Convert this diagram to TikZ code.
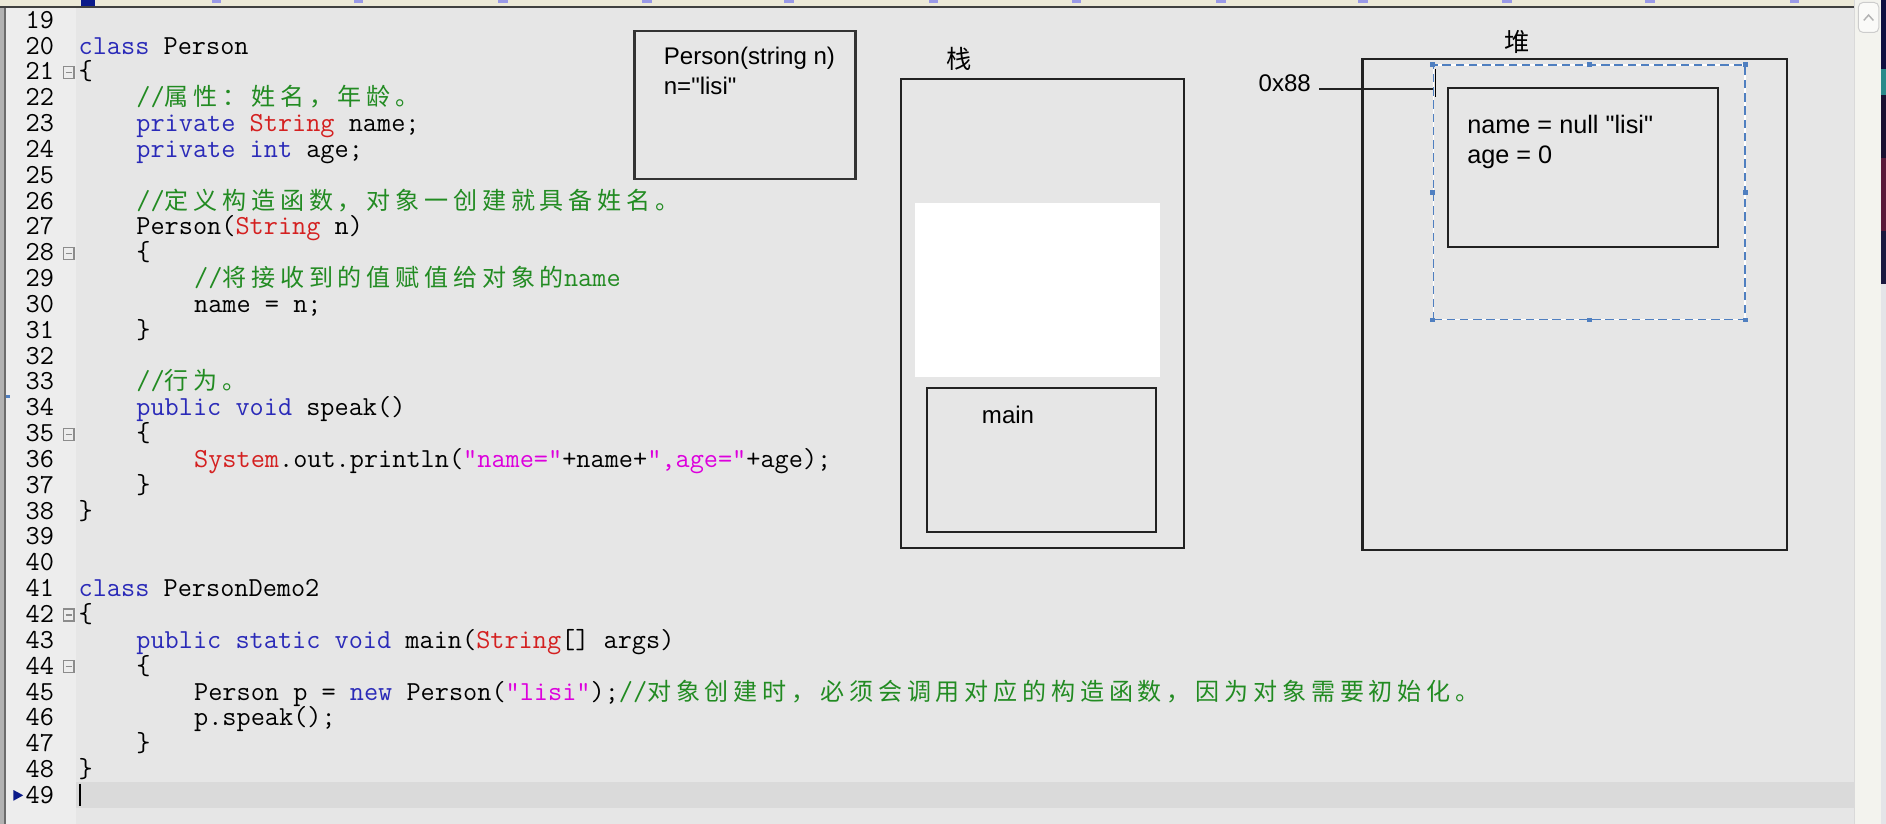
\documentclass[tikz,border=0pt]{standalone}
\usepackage{fontspec}
\setmainfont{Liberation Sans}[Ligatures=TeXOff]
\newfontfamily\cjk{Noto Sans CJK SC}
\newfontfamily\cjkcode[LetterSpace=20]{Noto Sans CJK SC}
\usetikzlibrary{fit}
\definecolor{codebg}{HTML}{E6E6E6}
\definecolor{gutc}{HTML}{EDEDED}
\definecolor{hlc}{HTML}{DADADA}
\definecolor{topc}{HTML}{ECE9D8}
\definecolor{tickc}{HTML}{9A9AE8}
\definecolor{sbc}{HTML}{F3F3EE}
\definecolor{navyc}{HTML}{0A1A8A}
\definecolor{kwc}{HTML}{2A2AB8}
\definecolor{tyc}{HTML}{D42020}
\definecolor{stc}{HTML}{DD00DD}
\definecolor{cmc}{HTML}{228B22}
\definecolor{boxc}{HTML}{222222}
\definecolor{selc}{HTML}{4F7FC0}
\definecolor{rsA}{HTML}{101040}
\definecolor{rsB}{HTML}{2A8A8A}
\definecolor{rsC}{HTML}{1A1030}
\definecolor{rsD}{HTML}{5A1A3A}
\definecolor{rsE}{HTML}{1A1A40}
\definecolor{rsF}{HTML}{E4E4E8}
\newcommand\kwd[1]{\textcolor{kwc}{#1}}
\newcommand\typn[1]{\textcolor{tyc}{#1}}
\newcommand\strl[1]{\textcolor{stc}{#1}}
\newcommand\cmnt[1]{\textcolor{cmc}{#1}}
\newcommand\zh[1]{{\cjkcode\fontsize{10pt}{12pt}\selectfont #1}}
\newcommand\myCL[3]{\node[codetxt] (L#1) at ({65+12*#2},{23.5+(#1-19)*21.48}) {#3};}
\begin{document}
\begin{tikzpicture}[x=0.5pt,y=-0.5pt,
  codetxt/.style={anchor=base west,inner sep=0pt,font=\ttfamily\fontsize{11.43pt}{12pt}\selectfont,text=black},
  lnumtxt/.style={anchor=base west,inner sep=0pt,font=\ttfamily\fontsize{11.43pt}{12pt}\selectfont,text=black},
  boxn/.style={draw=boxc,line width=0.9pt,inner sep=0pt},
  lbl/.style={anchor=base west,inner sep=0pt,font=\fontsize{10pt}{12pt}\selectfont},
  hlbl/.style={anchor=base west,inner sep=0pt,font=\fontsize{10.5pt}{12pt}\selectfont},
  zhlbl/.style={inner sep=0pt,font=\cjk\fontsize{10.5pt}{12pt}\selectfont}]
\useasboundingbox (0,0) rectangle (1568,685);
% editor chrome
\fill[codebg] (0,0) rectangle (1568,685);
\fill[gutc] (5,7) rectangle (63,685);
\fill[gray!60] (0,0) rectangle (3,685);
\fill[gray!85!black] (3,0) rectangle (5,685);
\fill[selc] (4.8,328) rectangle (8.6,331);
\fill[topc] (0,0) rectangle (1542,5);
\fill[black!75] (0,5) rectangle (1542,6.8);
\fill[navyc] (67,0) rectangle (78.7,5);
\foreach \x in {180,298,418,538,656,776,895,1015,1133,1253,1372,1492}
  \fill[tickc] (\x-4,0) rectangle (\x+4,2.5);
\fill[sbc] (1542,0) rectangle (1564,685);
\draw[black!15] (1542,0) -- (1542,685);
\draw[fill=white!60!sbc,draw=black!20,rounded corners=2pt] (1545,2) rectangle (1562,27);
\draw[black!30,line width=0.6pt] (1549.5,17) -- (1553.5,12.5) -- (1557.5,17);
\fill[rsA] (1564,0) rectangle (1568,57);
\fill[rsB] (1564,57) rectangle (1568,79);
\fill[rsC] (1564,79) rectangle (1568,131);
\fill[rsD] (1564,131) rectangle (1568,192);
\fill[rsE] (1564,192) rectangle (1568,236);
\fill[rsF] (1564,236) rectangle (1568,685);
\fill[hlc] (63,650.5) rectangle (1542,672);
% line numbers
\foreach \n in {19,...,49}
  \node[lnumtxt] (N\n) at (21,{23.5+(\n-19)*21.48}) {\n};
\fill[navyc] (11.2,656.8) -- (19.3,661.2) -- (11.2,665.7) -- cycle;
\foreach \n in {21,28,35,42,44}{
  \draw[black!45,fill=gutc,line width=0.5pt] (52.5,{17.3+(\n-19)*21.48-5}) rectangle (61.5,{17.3+(\n-19)*21.48+5});
  \draw[black!45,line width=0.5pt] (54.5,{17.3+(\n-19)*21.48}) -- (59.5,{17.3+(\n-19)*21.48});
}
% code
\myCL{20}{0}{\kwd{class} Person}
\myCL{21}{0}{\{}
\myCL{22}{4}{\cmnt{//\zh{属性：姓名，年龄。}}}
\myCL{23}{4}{\kwd{private} \typn{String} name;}
\myCL{24}{4}{\kwd{private} \kwd{int} age;}
\myCL{26}{4}{\cmnt{//\zh{定义构造函数，对象一创建就具备姓名。}}}
\myCL{27}{4}{Person(\typn{String} n)}
\myCL{28}{4}{\{}
\myCL{29}{8}{\cmnt{//\zh{将接收到的值赋值给对象的}name}}
\myCL{30}{8}{name = n;}
\myCL{31}{4}{\}}
\myCL{33}{4}{\cmnt{//\zh{行为。}}}
\myCL{34}{4}{\kwd{public} \kwd{void} speak()}
\myCL{35}{4}{\{}
\myCL{36}{8}{\typn{System}.out.println(\strl{"name="}+name+\strl{",age="}+age);}
\myCL{37}{4}{\}}
\myCL{38}{0}{\}}
\myCL{41}{0}{\kwd{class} PersonDemo2}
\myCL{42}{0}{\{}
\myCL{43}{4}{\kwd{public} \kwd{static} \kwd{void} main(\typn{String}[] args)}
\myCL{44}{4}{\{}
\myCL{45}{8}{Person p = \kwd{new} Person(\strl{"lisi"});\cmnt{//\zh{对象创建时，必须会调用对应的构造函数，因为对象需要初始化。}}}
\myCL{46}{8}{p.speak();}
\myCL{47}{4}{\}}
\myCL{48}{0}{\}}
\draw[line width=1pt] (66.5,651.5) -- (66.5,670.5);
% constructor frame
\node[boxn,draw=black!80,line width=1pt,fit={(527.4,25.8) (711.2,148.8)}] (pbox) {};
\node[lbl] (ptxt1) at (551.5,54) {Person(string n)};
\node[lbl] (ptxt2) at (551.5,78.4) {n="lisi"};
% stack
\node[zhlbl] (stackLbl) at (797.6,48.8) {栈};
\node[boxn,fit={(749.3,66) (984.4,455.3)}] (stack) {};
\node[fill=white,inner sep=0pt,fit={(761,168.5) (964.2,313.7)}] (wframe) {};
\node[boxn,fit={(770.5,322.3) (961,442)}] (mainbox) {};
\node[lbl] (mainTxt) at (816,352) {main};
% heap
\node[zhlbl] (heapLbl) at (1261.5,34.7) {堆};
\node[boxn,fit={(1132.8,49.3) (1485.4,457.3)}] (heap) {};
\node[draw=white,line width=0.6pt,inner sep=0pt,fit={(1191.7,54) (1450.7,265.5)}] (selw) {};
\node[draw=selc,dashed,dash pattern=on 3.5pt off 2pt,line width=0.6pt,inner sep=0pt,fit={(1191.7,54) (1450.7,265.5)}] (sel) {};
\foreach \a in {north west,north,north east,east,south east,south,south west,west}
  \fill[selc] ([shift={(-2,-2)}]sel.\a) rectangle ++(4,4);
\node[boxn,fit={(1203.5,73.2) (1428,205.1)}] (obj) {};
\node[hlbl] (nameTxt) at (1219.5,110.8) {name = null "lisi"};
\node[hlbl] (ageTxt) at (1219.5,135.8) {age = 0};
\node[lbl] (addr) at (1046,76) {0x88};
\coordinate (a0) at (1096.6,74.3);
\draw[boxc,line width=0.8pt] (a0) -- (a0 -| sel.west);
\coordinate (cur1) at (1193.5,57);
\coordinate (cur2) at (1193.5,81);
\draw[black,line width=0.6pt] (cur1) -- (cur2);
\end{tikzpicture}
\end{document}
